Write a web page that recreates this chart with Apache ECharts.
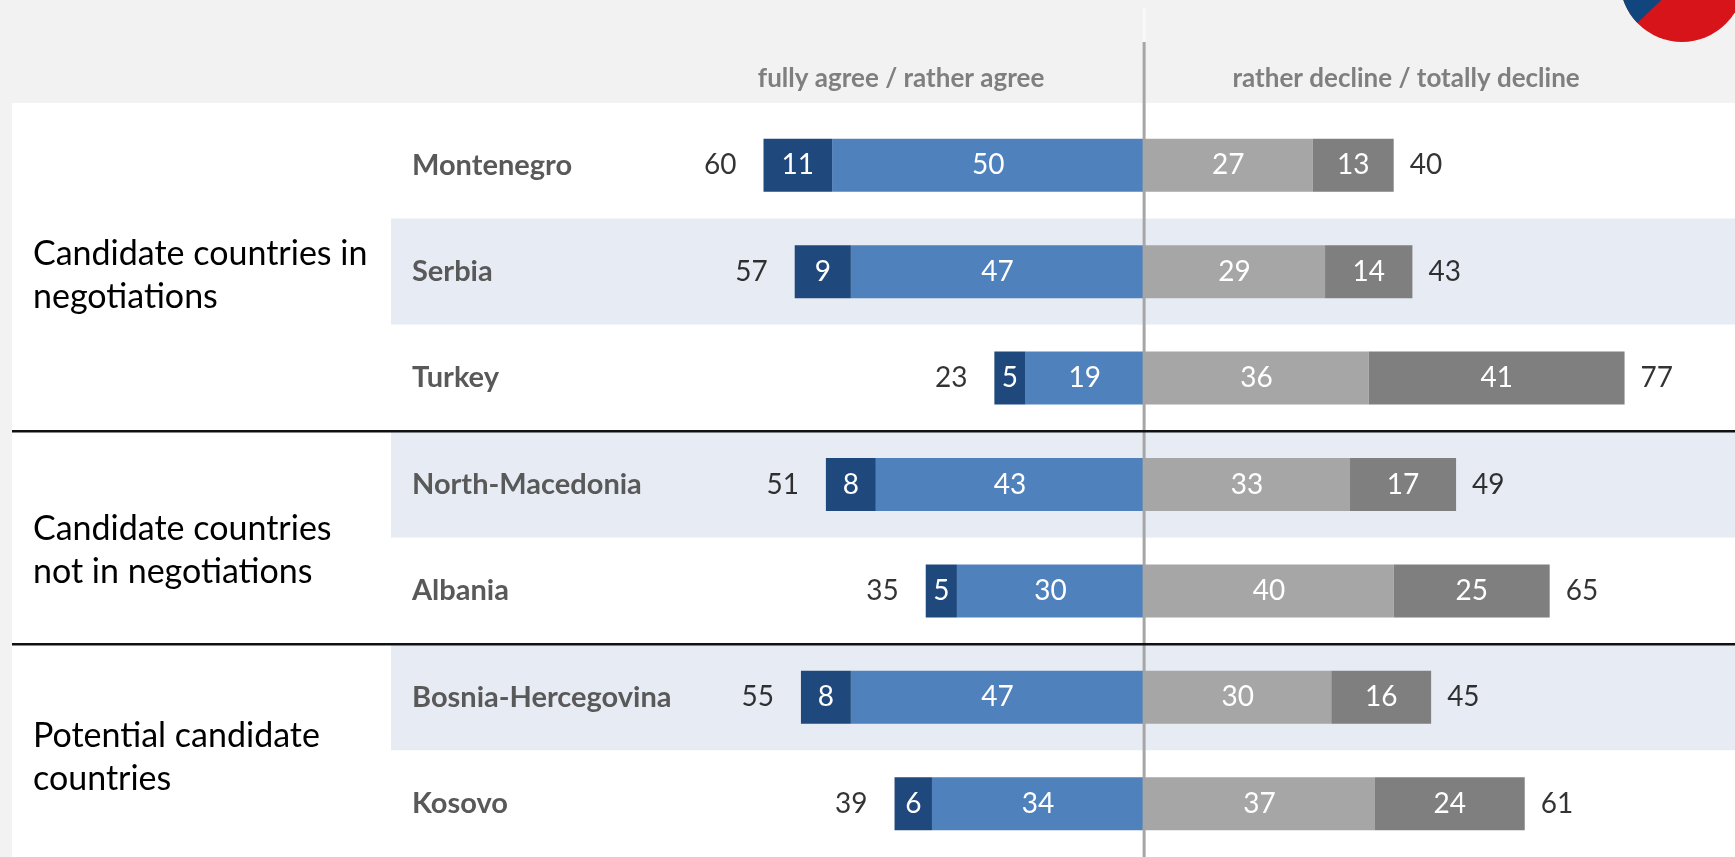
<!DOCTYPE html>
<html>
<head>
<meta charset="utf-8">
<script src="https://cdn.jsdelivr.net/npm/echarts@6/dist/echarts.min.js"></script>
<style>
  html, body { margin: 0; padding: 0; background: #f2f2f2; }
  #chart { width: 1735px; height: 857px; }
</style>
</head>
<body>
<div id="chart"></div>
<script>
const countries = ['Montenegro', 'Serbia', 'Turkey', 'North-Macedonia', 'Albania', 'Bosnia-Hercegovina', 'Kosovo'];
const fullyAgree = [11, 9, 5, 8, 5, 8, 6];
const ratherAgree = [50, 47, 19, 43, 30, 47, 34];
const ratherDecline = [27, 29, 36, 33, 40, 30, 37];
const totallyDecline = [13, 14, 41, 17, 25, 16, 24];
const agreeTotals = [60, 57, 23, 51, 35, 55, 39];
const declineTotals = [40, 43, 77, 49, 65, 45, 61];
const groupNames = ['Candidate countries in\nnegotiations', 'Candidate countries\nnot in negotiations', 'Potential candidate\ncountries'];
const groupSizes = [3, 2, 2];
const headers = ['fully agree / rather agree', 'rather decline / totally decline'];

const font = 'Lato';
const inLabel = {
  show: true,
  position: 'inside',
  color: '#fff',
  fontFamily: font,
  fontSize: 28,
  formatter: p => Math.abs(p.value)
};

function barSeries(name, data, color) {
  return {
    name: name,
    type: 'bar',
    stack: 'all',
    barWidth: 53,
    data: data,
    itemStyle: { color: color },
    label: inLabel
  };
}

function totalSeries(points, totals, side, dist) {
  return {
    type: 'scatter',
    symbolSize: 0,
    data: points,
    label: {
      show: true,
      position: side,
      distance: dist,
      color: '#000',
      fontFamily: font,
      fontSize: 28,
      formatter: p => totals[p.dataIndex]
    }
  };
}

const chart = echarts.init(document.getElementById('chart'));
chart.setOption({
  backgroundColor: '#f2f2f2',
  animation: false,
  grid: { left: 391, right: 0, top: 112, bottom: 0, outerBoundsMode: 'none' },
  xAxis: { type: 'value', min: -120.7, max: 94.7, show: false },
  yAxis: {
    type: 'category',
    data: countries,
    inverse: true,
    axisLine: { show: false },
    axisTick: { show: false },
    axisLabel: {
      align: 'left',
      margin: -21,
      color: '#595959',
      fontFamily: font,
      fontWeight: 'bold',
      fontSize: 29
    },
    splitArea: { show: true, areaStyle: { color: ['#ffffff', '#e7ecf4'] } }
  },
  series: [
    barSeries('rather agree', ratherAgree.map(v => -v), '#4f81bd'),
    barSeries('fully agree', fullyAgree.map(v => -v), '#1f497d'),
    barSeries('rather decline', ratherDecline, '#a6a6a6'),
    barSeries('totally decline', totallyDecline, '#7f7f7f'),
    totalSeries(countries.map((c, i) => [-(fullyAgree[i] + ratherAgree[i]), c]), agreeTotals, 'left', 27),
    totalSeries(countries.map((c, i) => [ratherDecline[i] + totallyDecline[i], c]), declineTotals, 'right', 16)
  ]
});

// decorations placed from the axes
const x0 = chart.convertToPixel({ xAxisIndex: 0 }, 0);
const rowY = countries.map(c => chart.convertToPixel({ yAxisIndex: 0 }, c));
const groupShift = [4, 13, 7];
const graphics = [
  { type: 'rect', z: -10, silent: true, shape: { x: 12, y: 103, width: 1723, height: 754 }, style: { fill: '#fff' } },
  { type: 'line', z: 100, shape: { x1: x0, y1: 8, x2: x0, y2: 42 }, style: { stroke: '#f9f9f9', lineWidth: 3 } },
  { type: 'line', z: 100, shape: { x1: x0, y1: 42, x2: x0, y2: 857 }, style: { stroke: '#a6a6a6', lineWidth: 3 } },
  { type: 'text', z: 100, x: x0 - 243, y: 79, style: { text: headers[0], align: 'center', verticalAlign: 'middle', fill: '#7f7f7f', font: 'bold 26px Lato' } },
  { type: 'text', z: 100, x: x0 + 262, y: 79, style: { text: headers[1], align: 'center', verticalAlign: 'middle', fill: '#7f7f7f', font: 'bold 26px Lato' } },
  { type: 'circle', z: 100, shape: { cx: 1682, cy: -20, r: 62 }, style: { fill: '#d7141a' } },
  { type: 'sector', z: 101, shape: { cx: 1682, cy: -20, r: 62, r0: 0, startAngle: 136 * Math.PI / 180, endAngle: 250 * Math.PI / 180, clockwise: true }, style: { fill: '#11457e' } }
];
let start = 0;
groupSizes.forEach((n, g) => {
  if (start > 0) {
    const sep = (rowY[start - 1] + rowY[start]) / 2;
    graphics.push({ type: 'line', z: 100, shape: { x1: 12, y1: sep, x2: 1735, y2: sep }, style: { stroke: '#111', lineWidth: 2.5 } });
  }
  const mid = (rowY[start] + rowY[start + n - 1]) / 2 + groupShift[g];
  graphics.push({ type: 'text', z: 100, x: 33, y: mid, style: { text: groupNames[g], align: 'left', verticalAlign: 'middle', fill: '#000', font: '34px Lato', lineHeight: 43 } });
  start += n;
});
chart.setOption({ graphic: graphics });
</script>
</body>
</html>
